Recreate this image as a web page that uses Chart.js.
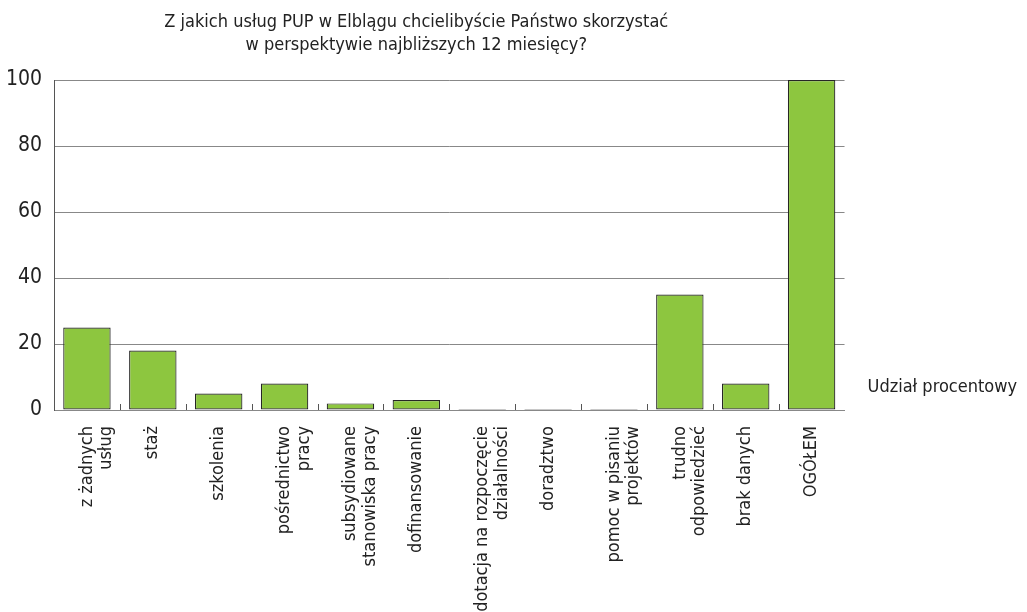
<!DOCTYPE html>
<html>
<head>
<meta charset="utf-8">
<script src="https://cdn.jsdelivr.net/npm/chart.js@4"></script>
<style>
    html, body { margin: 0; padding: 0; background: #fff; }
    #wrap { width: 1027px; height: 612px; }
</style>
</head>
<body>
<div id="wrap"><canvas id="UslugiChart"></canvas></div>
<script>
const categories = [
    ["z żadnych", "usług"],
    "staż",
    "szkolenia",
    ["pośrednictwo", "pracy"],
    ["subsydiowane", "stanowiska pracy"],
    "dofinansowanie",
    ["dotacja na rozpoczęcie", "działalności"],
    "doradztwo",
    ["pomoc w pisaniu", "projektów"],
    ["trudno", "odpowiedzieć"],
    "brak danych",
    "OGÓŁEM"
];
const values = [25, 18, 5, 8, 2, 3, 0, 0, 0, 35, 8, 100];
const yTicks = [0, 20, 40, 60, 80, 100];
const titleLines = ["Z jakich usług PUP w Elblągu chcielibyście Państwo skorzystać", "w perspektywie najbliższych 12 miesięcy?"];
const seriesName = "Udział procentowy";

const FONT = "'Liberation Sans Narrow', 'DejaVu Sans Condensed', 'Liberation Sans', sans-serif";

// small ticks between categories, pointing up from the axis
const betweenTicks = {
    id: 'betweenTicks',
    afterDatasetsDraw(chart) {
        const x = chart.scales.x;
        const ctx = chart.ctx;
        const half = (x.getPixelForValue(1) - x.getPixelForValue(0)) / 2;
        const bottom = chart.chartArea.bottom;
        ctx.save();
        ctx.strokeStyle = "#555";
        ctx.lineWidth = 1;
        for (let i = 1; i < categories.length; i++) {
            const px = Math.round(x.getPixelForValue(i) - half) + 0.5;
            ctx.beginPath();
            ctx.moveTo(px, bottom);
            ctx.lineTo(px, bottom - 6);
            ctx.stroke();
        }
        ctx.restore();
    }
};

// title sits a little left of the plot centre, like the original
const topTitle = {
    id: 'topTitle',
    afterDraw(chart) {
        const ctx = chart.ctx;
        const cx = (chart.chartArea.left + chart.chartArea.right) / 2 - 33;
        ctx.save();
        ctx.font = "18px " + FONT;
        ctx.fillStyle = "#222";
        ctx.textAlign = "center";
        ctx.textBaseline = "middle";
        ctx.fillText(titleLines[0], cx, 22);
        ctx.fillText(titleLines[1], cx, 45);
        ctx.restore();
    }
};

new Chart(document.querySelector('#UslugiChart'), {
    type: 'bar',
    data: {
        labels: categories,
        datasets: [{
            label: seriesName,
            data: values,
            backgroundColor: "#8dc63f",
            borderColor: "#262626",
            borderWidth: 1.2,
            borderSkipped: false,
            minBarLength: 1,
            barPercentage: 0.72,
            categoryPercentage: 1
        }]
    },
    options: {
        responsive: true,
        maintainAspectRatio: false,
        animation: false,
        layout: { padding: { top: 80, left: 0, right: 0, bottom: 0 } },
        plugins: {
            title: { display: false },
            tooltip: { enabled: false },
            legend: {
                position: 'right',
                align: 'end',
                fullSize: false,
                labels: {
                    boxWidth: 0,
                    boxHeight: 0,
                    padding: 14,
                    color: "#222",
                    font: { size: 18, family: FONT }
                }
            }
        },
        scales: {
            x: {
                grid: { display: false },
                border: { display: true, color: "#888", width: 1 },
                ticks: {
                    maxRotation: 90,
                    minRotation: 90,
                    autoSkip: false,
                    padding: 8,
                    color: "#222",
                    font: { size: 18, family: FONT, lineHeight: 1.1 }
                },
                afterFit(scale) { scale.height = 202; }
            },
            y: {
                min: 0,
                max: 100,
                afterBuildTicks(scale) { scale.ticks = yTicks.map(v => ({ value: v })); },
                grid: { color: "#888", drawTicks: false, lineWidth: 1 },
                border: { display: true, color: "#555", width: 1 },
                ticks: {
                    padding: 12,
                    color: "#222",
                    font: { size: 21, family: FONT }
                },
                afterFit(scale) { scale.width = 54; }
            }
        }
    },
    plugins: [betweenTicks, topTitle]
});
</script>
</body>
</html>
